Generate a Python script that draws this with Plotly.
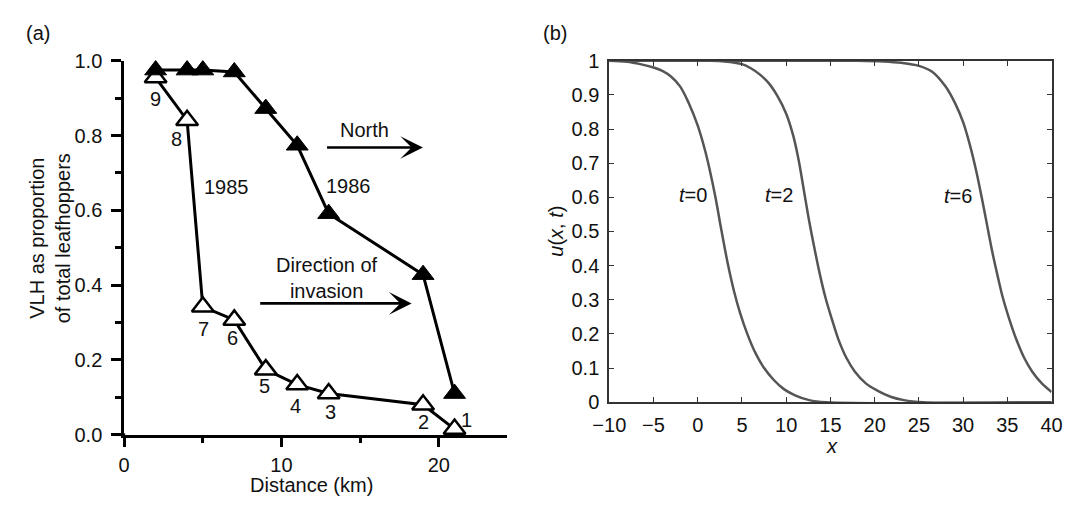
import plotly.graph_objects as go

# ---------------- data: panel (a) ----------------
distance_km = [2, 4, 5, 7, 9, 11, 13, 19, 21]
vlh_1985 = [0.955, 0.841, 0.342, 0.307, 0.174, 0.134, 0.11, 0.08, 0.015]
vlh_1986 = [0.975, 0.975, 0.975, 0.97, 0.872, 0.774, 0.591, 0.428, 0.11]
site_labels = ["9", "8", "7", "6", "5", "4", "3", "2", "1"]

# ---------------- data: panel (b) ----------------
x_t0 = [-10, -8, -6.5, -5, -4, -3, -2, -1, 0, 0.8, 1.4, 2.0, 2.7, 3.44, 4.1, 4.8, 5.6, 6.5, 7.5, 8.6,
        9.7, 11, 12.6, 14.5, 40]
u_t0 = [1.0, 0.997, 0.99, 0.98, 0.97, 0.953, 0.925, 0.875, 0.81, 0.74, 0.675, 0.6, 0.5, 0.4, 0.325, 0.26,
        0.2, 0.145, 0.1, 0.065, 0.039, 0.02, 0.006, 0.0, 0.0]
x_t2 = [-10, 1, 3, 5, 6, 7, 8, 9, 10, 10.8, 11.4, 12.0, 12.6, 13.2, 13.8, 14.45, 15.2, 15.9, 16.8, 17.75,
        19, 20.3, 21.8, 23.3, 25.5, 40]
u_t2 = [1.0, 1.0, 0.998, 0.99, 0.978, 0.96, 0.935, 0.897, 0.845, 0.78, 0.71, 0.62, 0.53, 0.45, 0.375, 0.305,
        0.24, 0.184, 0.13, 0.09, 0.055, 0.034, 0.016, 0.006, 0.0, 0.0]
x_t6 = [-10, 18, 21, 23, 25, 26.5, 28, 29.1, 30, 30.8, 31.5, 32.1, 32.7, 33.3, 33.9, 34.5, 35.2, 36.0, 36.9,
        37.8, 38.9, 40]
u_t6 = [1.0, 1.0, 0.998, 0.994, 0.985, 0.968, 0.925, 0.875, 0.82, 0.75, 0.675, 0.6, 0.52, 0.44, 0.37, 0.305,
        0.245, 0.185, 0.13, 0.09, 0.055, 0.03]
curve_labels = [("<i>t</i>=0", -0.5, 0.606), ("<i>t</i>=2", 9.22, 0.606), ("<i>t</i>=6", 29.4, 0.605)]

# ---------------- styles ----------------
W, H = 1084, 505
FONT = "Liberation Sans, Arial, Helvetica, sans-serif"
FS = 20
INK = "#111111"
GRAY = "#555555"

# pixel offsets for site labels (style, not data)
label_shift = [(0, -21), (-11, -19), (1, -22), (-2, -18), (-1, -16), (-2, -21), (2, -18), (0, -17), (12, 9)]


def px_x(p):
    return p / W


def px_y(p):
    return (H - p) / H


fig = go.Figure()

fig.add_trace(go.Scatter(
    x=distance_km, y=vlh_1985, mode="lines+markers", xaxis="x", yaxis="y",
    line=dict(color="black", width=3),
    marker=dict(symbol="triangle-up", size=19, color="white", line=dict(color="black", width=2.5)),
    cliponaxis=False, showlegend=False))
fig.add_trace(go.Scatter(
    x=distance_km, y=vlh_1986, mode="lines+markers", xaxis="x", yaxis="y",
    line=dict(color="black", width=3),
    marker=dict(symbol="triangle-up", size=19, color="black", line=dict(color="black", width=1)),
    cliponaxis=False, showlegend=False))

for xs, us in [(x_t0, u_t0), (x_t2, u_t2), (x_t6, u_t6)]:
    fig.add_trace(go.Scatter(
        x=xs, y=us, mode="lines", xaxis="x2", yaxis="y2",
        line=dict(color=GRAY, width=2.5, shape="spline", smoothing=1.0),
        showlegend=False))

ann = []
for xv, yv, lab, (dx, dy) in zip(distance_km, vlh_1985, site_labels, label_shift):
    ann.append(dict(x=xv, y=yv, xref="x", yref="y", text=lab, showarrow=False,
                    xshift=dx, yshift=dy, font=dict(size=FS, color=INK)))
ann += [
    dict(x=6.53, y=0.662, xref="x", yref="y", text="1985", showarrow=False, font=dict(size=FS, color=INK)),
    dict(x=14.29, y=0.664, xref="x", yref="y", text="1986", showarrow=False, font=dict(size=FS, color=INK)),
    dict(x=15.28, y=0.814, xref="x", yref="y", text="North", showarrow=False, font=dict(size=FS, color=INK)),
    dict(x=12.92, y=0.42, xref="x", yref="y", text="Direction of<br>invasion", showarrow=False,
         font=dict(size=FS, color=INK)),
    dict(x=18.99, y=0.768, ax=12.8, ay=0.768, xref="x", yref="y", axref="x", ayref="y", text="",
         showarrow=True, arrowhead=3, arrowsize=1.4, arrowwidth=2.7, arrowcolor="black"),
    dict(x=18.27, y=0.351, ax=8.55, ay=0.351, xref="x", yref="y", axref="x", ayref="y", text="",
         showarrow=True, arrowhead=3, arrowsize=1.4, arrowwidth=2.7, arrowcolor="black"),
    dict(x=px_x(7), y=px_y(23), xref="paper", yref="paper", text="(a)", showarrow=False,
         xanchor="left", yanchor="middle", font=dict(size=FS, color=INK)),
    dict(x=px_x(538), y=px_y(23), xref="paper", yref="paper", text="(b)", showarrow=False,
         xanchor="left", yanchor="middle", font=dict(size=FS, color=INK)),
    dict(x=px_x(33.5), y=px_y(238), xref="paper", yref="paper", text="VLH as proportion<br>of total leafhoppers",
         textangle=-90, showarrow=False, xanchor="center", yanchor="middle", font=dict(size=FS, color=INK)),
    dict(x=px_x(302), y=px_y(496), xref="paper", yref="paper", text="Distance (km)", showarrow=False,
         xanchor="center", yanchor="middle", font=dict(size=FS, color=INK)),
    dict(x=px_x(553), y=px_y(230), xref="paper", yref="paper", text="<i>u</i>(<i>x</i>, <i>t</i>)",
         textangle=-90, showarrow=False, xanchor="center", yanchor="middle", font=dict(size=FS, color=INK)),
    dict(x=px_x(837), y=px_y(455), xref="paper", yref="paper", text="<i>x</i>", showarrow=False,
         xanchor="center", yanchor="middle", font=dict(size=FS, color=INK)),
]
for txt, xv, yv in curve_labels:
    ann.append(dict(x=xv, y=yv, xref="x2", yref="y2", text=txt, showarrow=False, font=dict(size=FS, color=INK)))

shapes = [
    dict(type="line", xref="paper", yref="paper", x0=px_x(100), x1=px_x(111), y0=px_y(443), y1=px_y(443),
         line=dict(color="black", width=2.7)),
]

fig.update_layout(
    width=W, height=H, margin=dict(l=0, r=0, t=0, b=0),
    paper_bgcolor="white", plot_bgcolor="white",
    font=dict(family=FONT, size=FS, color=INK),
    annotations=ann, shapes=shapes,
    xaxis=dict(domain=[px_x(110), px_x(503)], range=[0, (503 - 110) / 16.15], anchor="y",
               showline=True, linecolor="black", linewidth=2.7, showgrid=False, zeroline=False,
               ticks="outside", ticklen=9, tickwidth=2.5, tickcolor="black",
               tickvals=[0, 10, 20], ticklabelstandoff=1,
               minor=dict(tickvals=[5, 15], ticks="outside", ticklen=5, tickwidth=2.5, tickcolor="black")),
    yaxis=dict(domain=[px_y(443), px_y(52)], range=[0, 1], anchor="x",
               showline=True, linecolor="black", linewidth=2.7, showgrid=False, zeroline=False,
               ticks="outside", ticklen=10, tickwidth=2.5, tickcolor="black",
               tickvals=[0, 0.2, 0.4, 0.6, 0.8, 1.0], tickformat=".1f", ticklabelstandoff=5,
               minor=dict(tickvals=[0.1, 0.3, 0.5, 0.7, 0.9], ticks="outside", ticklen=6, tickwidth=2.5,
                          tickcolor="black")),
    xaxis2=dict(domain=[px_x(608), px_x(1062)], range=[-10, 40], anchor="y2",
                showline=True, linecolor="#333333", linewidth=2, mirror="ticks", showgrid=False, zeroline=False,
                ticks="inside", ticklen=5, tickwidth=1.2, tickcolor="#333333", dtick=5, tick0=-10,
                ticklabelstandoff=4),
    yaxis2=dict(domain=[px_y(409), px_y(52)], range=[0, 1], anchor="x2",
                showline=True, linecolor="#333333", linewidth=2, mirror="ticks", showgrid=False, zeroline=False,
                ticks="inside", ticklen=5, tickwidth=1.2, tickcolor="#333333", dtick=0.1, tick0=0,
                ticklabelstandoff=4),
)

fig.write_html("out.html", post_script="document.body.style.margin='0';")
